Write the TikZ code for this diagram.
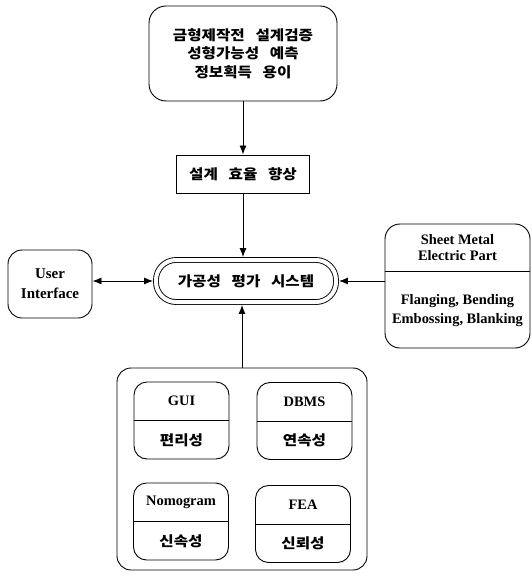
\documentclass[tikz,border=0pt]{standalone}
\usepackage{fontspec}
\setmainfont{Liberation Serif}
\newfontfamily\kfont[FakeStretch=1.12, WordSpace=3]{Noto Sans CJK KR}
\usetikzlibrary{arrows.meta,calc}

\tikzset{
  box/.style={draw, line width=0.9bp, rounded corners=15bp},
  kor/.style={font=\kfont\bfseries\fontsize{14}{18.5}\selectfont, align=center},
  eng/.style={font=\bfseries\fontsize{14.5}{16}\selectfont, align=center},
  link/.style={line width=0.9bp, -{Latex[length=9bp,width=7bp]}},
}

\begin{document}
\begin{tikzpicture}[x=1bp, y=-1bp]
\useasboundingbox (0,0) rectangle (532,577);
% top boxes
\node[box, kor, rounded corners=17bp, minimum width=188bp, minimum height=95bp] (goal) at (243,53.5)
  {금형제작전 설계검증\\성형가능성 예측\\정보획득 용이};
\node[draw, line width=0.9bp, kor, minimum width=133bp, minimum height=38bp] (eff) at (243,174) {설계 효율 향상};
\node[kor, draw, double, double distance=4bp, line width=0.9bp, rounded corners=20bp,
      minimum width=180bp, minimum height=42bp] (sys) at (246,281) {가공성 평가 시스템};
% side boxes
\node[box, eng, font=\bfseries\fontsize{15}{20}\selectfont, rounded corners=14bp,
      minimum width=84bp, minimum height=68bp] (ui) at (50,284) {User\\Interface};
\node[box, minimum width=145bp, minimum height=124bp] (sheet) at (457.5,286) {};
\draw[line width=0.9bp] ($(sheet.north west)!0.387!(sheet.south west)$) -- ($(sheet.north east)!0.387!(sheet.south east)$);
\node[eng] (sheet-a) at ($(sheet.north)+(0,24)$) {Sheet Metal\\Electric Part};
\node[eng, font=\bfseries\fontsize{14.5}{19}\selectfont] (sheet-b) at ($(sheet.south)+(0,-38)$) {Flanging, Bending\\Embossing, Blanking};
% bottom group
\node[box, rounded corners=14bp, minimum width=250bp, minimum height=202bp] (tools) at (242,469) {};
\foreach \nm/\px/\py/\up/\lo in {gui/181.5/420.5/GUI/편리성, dbms/304.5/421/DBMS/연속성,
                                  nomo/181/521.5/Nomogram/신속성, fea/303/524/FEA/신뢰성} {
  \node[box, rounded corners=13bp, minimum width=95bp, minimum height=77bp] (\nm) at (\px,\py) {};
  \draw[line width=0.9bp] (\nm.west) -- (\nm.east);
  \node[eng] (\nm-a) at ($(\nm.center)!0.5!(\nm.north)$) {\up};
  \node[kor] (\nm-b) at ($(\nm.center)!0.5!(\nm.south)$) {\lo};
}
% arrows
\draw[link] (goal.south) -- (goal.south |- eff.north);
\draw[link, shorten >=2.5bp] (eff.south) -- (eff.south |- sys.north);
\draw[link, shorten >=2.5bp] (tools.north) -- (tools.north |- sys.south);
\draw[link, shorten >=2.5bp] (sheet.west |- sys.east) -- (sys.east);
\draw[link, {Latex[length=9bp,width=7bp]}-{Latex[length=9bp,width=7bp]}, shorten >=2.5bp] (ui.east |- sys.west) -- (sys.west);
\end{tikzpicture}
\end{document}
